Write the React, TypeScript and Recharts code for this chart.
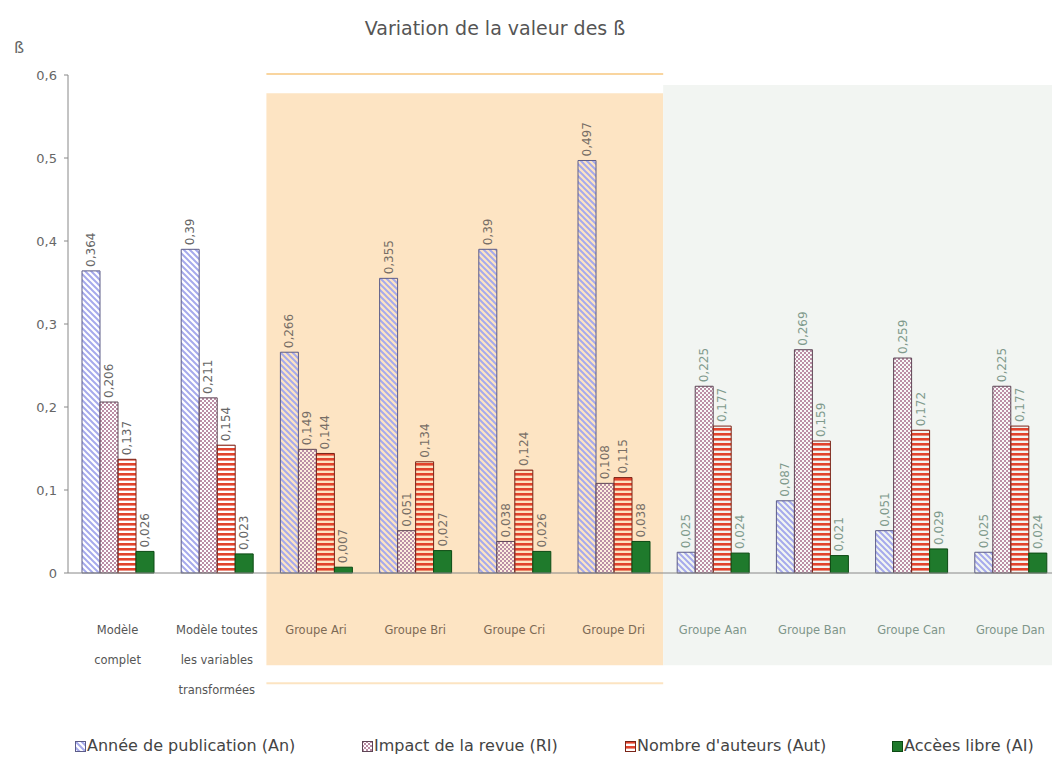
import React from "react";
import { BarChart, Bar, XAxis, YAxis, ReferenceArea, LabelList } from "recharts";

const categories = [
  "Modèle complet",
  "Modèle toutes les variables transformées",
  "Groupe Ari",
  "Groupe Bri",
  "Groupe Cri",
  "Groupe Dri",
  "Groupe Aan",
  "Groupe Ban",
  "Groupe Can",
  "Groupe Dan",
];
const categoryLines = [
  ["Modèle", "complet"],
  ["Modèle toutes", "les variables", "transformées"],
  ["Groupe Ari"],
  ["Groupe Bri"],
  ["Groupe Cri"],
  ["Groupe Dri"],
  ["Groupe Aan"],
  ["Groupe Ban"],
  ["Groupe Can"],
  ["Groupe Dan"],
];
const anneePublication = [0.364, 0.39, 0.266, 0.355, 0.39, 0.497, 0.025, 0.087, 0.051, 0.025];
const impactRevue = [0.206, 0.211, 0.149, 0.051, 0.038, 0.108, 0.225, 0.269, 0.259, 0.225];
const nombreAuteurs = [0.137, 0.154, 0.144, 0.134, 0.124, 0.115, 0.177, 0.159, 0.172, 0.177];
const accesLibre = [0.026, 0.023, 0.007, 0.027, 0.026, 0.038, 0.024, 0.021, 0.029, 0.024];
const yTicks = [0, 0.1, 0.2, 0.3, 0.4, 0.5, 0.6];

const seriesNames = [
  "Année de publication (An)",
  "Impact de la revue (RI)",
  "Nombre d'auteurs (Aut)",
  "Accèes libre (AI)",
];

const data = categories.map((c, i) => ({
  name: c,
  an: anneePublication[i],
  ri: impactRevue[i],
  aut: nombreAuteurs[i],
  al: accesLibre[i],
}));

const FONT = "'DejaVu Sans', Verdana, sans-serif";
const fmt = (v: number) => String(v).replace(".", ",");

const groupTextColor = (i: number) => (i < 2 ? "#555" : i < 6 ? "#7d6a55" : "#7f968a");
const labelColor = (i: number) => (i < 2 ? "#666" : i < 6 ? "#776e66" : "#7f9a8c");

const series = [
  { key: "an", fill: "url(#pAn)", stroke: "#5c5c88" },
  { key: "ri", fill: "url(#pRI)", stroke: "#5e4656" },
  { key: "aut", fill: "url(#pAut)", stroke: "#7a2418" },
  { key: "al", fill: "#1f7a2c", stroke: "#0d4a14" },
];

const Patterns = () => (
  <defs>
    <pattern id="pAn" patternUnits="userSpaceOnUse" width="6" height="6">
      <path d="M0,0 L6,6 M-1,5 L1,7 M5,-1 L7,1" stroke="#a6aaec" strokeWidth="2" />
    </pattern>
    <pattern id="pRI" patternUnits="userSpaceOnUse" width="4" height="4">
      <rect width="4" height="4" fill="#ffffff" fillOpacity="0.45" />
      <rect x="0" y="0" width="2" height="2" fill="#bb8ea6" />
      <rect x="2" y="2" width="2" height="2" fill="#bb8ea6" />
    </pattern>
    <pattern id="pAut" patternUnits="userSpaceOnUse" width="5" height="5">
      <rect y="0" width="5" height="2.6" fill="#e2432c" />
    </pattern>
  </defs>
);

const XTick = (props: any) => {
  const { x, y, payload, index } = props;
  const idx = typeof index === "number" ? index : categories.indexOf(payload.value);
  const lines = categoryLines[idx] || [payload.value];
  return (
    <g>
      {lines.map((l, k) => (
        <text
          key={k}
          x={x}
          y={y + 61 + k * 30}
          textAnchor="middle"
          fontFamily={FONT}
          fontSize={11.5}
          fill={groupTextColor(idx)}
        >
          {l}
        </text>
      ))}
    </g>
  );
};

const makeLabel = () => (props: any) => {
  const { x, y, width, value, index } = props;
  const cx = Number(x) + Number(width) / 2;
  const ty = Number(y) - 4;
  return (
    <text
      x={cx}
      y={ty}
      transform={`rotate(-90 ${cx} ${ty})`}
      textAnchor="start"
      dominantBaseline="central"
      fontFamily={FONT}
      fontSize={12}
      fill={labelColor(index ?? 0)}
    >
      {fmt(value)}
    </text>
  );
};

const legendLefts = [67, 354, 617, 884];

const Swatch = ({ i }: { i: number }) => (
  <svg width={11} height={11} style={{ marginRight: 1 }}>
    <rect x={0.5} y={0.5} width={10} height={10} fill="#fff" stroke="none" />
    <rect x={0.5} y={0.5} width={10} height={10} fill={series[i].fill} stroke={series[i].stroke} />
  </svg>
);

export default function App() {
  return (
    <div style={{ position: "relative", width: 1052, height: 765, fontFamily: FONT }}>
      <div
        style={{
          position: "absolute",
          left: 0,
          top: 9,
          width: 974,
          textAlign: "center",
          fontSize: 19,
          color: "#555",
          lineHeight: "22px",
        }}
      >
        Variation de la valeur des ß
      </div>
      <div style={{ position: "absolute", left: 6, top: 30, fontSize: 16, color: "#666", lineHeight: "20px" }}>ß</div>
      <BarChart
        width={1052}
        height={765}
        data={data}
        margin={{ top: 67, right: 0, left: 20, bottom: 60 }}
        barCategoryGap={14}
        barGap={0}
      >
        <Patterns />
        <ReferenceArea
          x1="Groupe Ari"
          x2="Groupe Dri"
          y1={-0.111}
          y2={0.578}
          fill="#fde4c3"
          fillOpacity={1}
          stroke="none"
          ifOverflow="visible"
        />
        <ReferenceArea
          x1="Groupe Aan"
          x2="Groupe Dan"
          y1={-0.111}
          y2={0.588}
          fill="#f2f5f2"
          fillOpacity={1}
          stroke="none"
          ifOverflow="visible"
        />
        <ReferenceArea
          x1="Groupe Ari"
          x2="Groupe Dri"
          y1={0.6}
          y2={0.6025}
          fill="#f9d59f"
          fillOpacity={1}
          stroke="none"
          ifOverflow="visible"
        />
        <ReferenceArea
          x1="Groupe Ari"
          x2="Groupe Dri"
          y1={-0.134}
          y2={-0.1315}
          fill="#fce4c2"
          fillOpacity={1}
          stroke="none"
          ifOverflow="visible"
        />
        <XAxis
          dataKey="name"
          interval={0}
          height={140}
          tickLine={false}
          tickSize={0}
          tickMargin={0}
          axisLine={{ stroke: "#888" }}
          tick={<XTick />}
        />
        <YAxis
          domain={[0, 0.6]}
          ticks={yTicks}
          width={40}
          tickSize={4}
          tickMargin={7}
          tickFormatter={fmt}
          axisLine={{ stroke: "#888" }}
          tickLine={{ stroke: "#888" }}
          tick={{ fontFamily: FONT, fontSize: 13, fill: "#666" }}
        />
        {series.map((s, i) => (
          <Bar
            key={s.key}
            dataKey={s.key}
            name={seriesNames[i]}
            fill={s.fill}
            stroke={s.stroke}
            strokeWidth={1}
            isAnimationActive={false}
          >
            <LabelList dataKey={s.key} content={makeLabel()} />
          </Bar>
        ))}
      </BarChart>
      {seriesNames.map((n, i) => (
        <div
          key={n}
          style={{
            position: "absolute",
            left: legendLefts[i],
            top: 727,
            display: "flex",
            alignItems: "center",
            fontSize: 16,
            color: "#444",
            lineHeight: "22px",
            whiteSpace: "nowrap",
          }}
        >
          <Swatch i={i} />
          {n}
        </div>
      ))}
    </div>
  );
}
